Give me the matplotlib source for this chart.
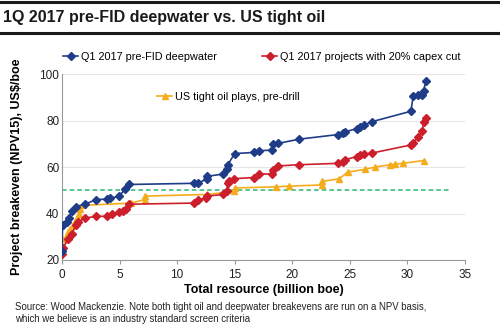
# Breakeven cost curves: pre-FID deepwater vs US tight oil (1Q 2017)
import matplotlib
matplotlib.use("Agg")
import matplotlib.pyplot as plt
from matplotlib.lines import Line2D

plt.rcParams["font.family"] = ["Liberation Sans", "DejaVu Sans"]

# Data
deep_x = [0, 0.05, 0.45, 0.6, 0.85, 1.2, 2.0, 2.95, 3.9, 4.2, 4.95, 5.5, 5.8,
          11.5, 11.8, 12.6, 12.6, 14.0, 14.3, 14.4, 15.0, 16.7, 17.1, 18.2, 18.3,
          18.8, 20.6, 24.0, 24.4, 24.6, 25.6, 25.9, 26.2, 26.9, 30.3, 30.5, 30.9,
          31.3, 31.4, 31.6]
deep_y = [24, 35, 36.5, 38, 41, 43, 44, 46, 46.2, 46.5, 47.5, 50.5, 52.5,
          53, 53, 55, 56, 57, 59, 61, 65.8, 66.3, 67, 67.3, 69.8,
          70.2, 72, 74, 74.8, 75.2, 76.5, 77.2, 78, 79.5, 84, 90.5, 91,
          91, 92.8, 97]

cut_x = [0, 0.05, 0.55, 0.85, 1.2, 1.4, 2.0, 2.95, 3.9, 4.3, 4.95, 5.3, 5.6, 5.85,
         11.5, 11.8, 12.5, 12.6, 14.0, 14.3, 14.4, 14.5, 14.95, 16.7, 17.1, 18.2,
         18.3, 18.8, 20.6, 24.0, 24.4, 24.6, 25.6, 25.9, 26.2, 26.9, 30.3, 30.5,
         30.9, 31.3, 31.4, 31.6]
cut_y = [22.5, 25, 29, 31, 35, 36.5, 38, 38.8, 38.8, 39.8, 40.5, 41, 41.8, 44,
         44.5, 46, 46.5, 47.5, 48.2, 49.5, 53, 54, 55, 55.5, 57, 57,
         58.7, 60.5, 61, 61.6, 62.3, 63.2, 64.5, 65, 65.5, 66, 69.5, 70.2,
         72.8, 75.5, 79.5, 81]

tight_x = [0, 0.25, 0.55, 0.7, 0.95, 1.1, 1.3, 1.45, 1.6, 1.8, 6.0, 7.2, 7.2,
           12.6, 14.9, 15.0, 18.6, 19.7, 22.6, 22.6, 24.1, 24.8, 26.3, 27.2,
           28.5, 28.9, 29.6, 31.4]
tight_y = [29, 29.2, 32, 33.5, 35, 36.5, 38, 40, 42, 43.5, 44.5, 46, 47.5,
           48.2, 49.5, 51, 51.5, 51.8, 52.3, 53.8, 55, 57.8, 59, 60,
           61, 61.2, 61.6, 62.8]

ref_level = 50
ref_xmax = 33.6

BLUE = "#1f3c88"
RED = "#cc1f2b"
YELLOW = "#f4ac1c"
GREEN = "#2bb673"

fig = plt.figure(figsize=(5, 3.25), dpi=100)

# title with thick rules above and below
fig.add_artist(Line2D([0, 1], [0.994, 0.994], color="#1a1a1a", lw=2.2))
fig.add_artist(Line2D([0, 1], [0.9, 0.9], color="#1a1a1a", lw=2.2))
fig.text(0.006, 0.946, "1Q 2017 pre-FID deepwater vs. US tight oil",
         fontsize=11.5, fontweight="bold", color="#1a1a1a", va="center", ha="left")

ax = fig.add_axes([0.124, 0.2, 0.806, 0.572])

ax.axhline(ref_level, xmin=0, xmax=ref_xmax / 35, color=GREEN, lw=1.1,
           ls=(0, (3, 2)), zorder=1)

ax.plot(tight_x, tight_y, color=YELLOW, marker="^", ms=5, lw=1.2, zorder=2)
ax.plot(cut_x, cut_y, color=RED, marker="D", ms=4, lw=1.2, zorder=3)
ax.plot(deep_x, deep_y, color=BLUE, marker="D", ms=4, lw=1.2, zorder=4)

ax.set_xlim(0, 35)
ax.set_ylim(20, 100)
ax.set_xticks(range(0, 36, 5))
ax.set_yticks([20, 40, 60, 80, 100])
ax.yaxis.grid(True, color="#e6e6e6", lw=0.8)
ax.set_axisbelow(True)
for s in ["top", "right"]:
    ax.spines[s].set_visible(False)
for s in ["left", "bottom"]:
    ax.spines[s].set_color("#999999")
ax.tick_params(axis="both", labelsize=8.5, color="#999999", length=3, labelcolor="#222222")
ax.tick_params(axis="y", length=0, pad=2)

ax.set_xlabel("Total resource (billion boe)", fontsize=9, fontweight="bold")
ax.set_ylabel("Project breakeven (NPV15), US$/boe", fontsize=9, fontweight="bold")
ax.xaxis.set_label_coords(0.5, -0.128)
ax.yaxis.set_label_coords(-0.097, 0.5)

# legend entries placed like the original
def key(color, marker, ms):
    return Line2D([], [], color=color, marker=marker, ms=ms, lw=1.2)

leg_kw = dict(loc="center left", frameon=False, fontsize=7.8, handlelength=1.4,
              handletextpad=0.25, borderpad=0, borderaxespad=0,
              bbox_transform=fig.transFigure)
leg1 = ax.legend([key(BLUE, "D", 4)], ["Q1 2017 pre-FID deepwater"],
                 bbox_to_anchor=(0.126, 0.825), **leg_kw)
ax.add_artist(leg1)
leg2 = ax.legend([key(RED, "D", 4)], ["Q1 2017 projects with 20% capex cut"],
                 bbox_to_anchor=(0.524, 0.825), **leg_kw)
ax.add_artist(leg2)
ax.legend([key(YELLOW, "^", 5)], ["US tight oil plays, pre-drill"],
          bbox_to_anchor=(0.314, 0.702), **leg_kw)

fig.text(0.03, 0.037,
         "Source: Wood Mackenzie. Note both tight oil and deepwater breakevens are run on a NPV basis,\n"
         "which we believe is an industry standard screen criteria",
         fontsize=6.95, color="#222222", ha="left", va="center", linespacing=1.35)

fig.savefig("out.png", dpi=100, facecolor="white")
